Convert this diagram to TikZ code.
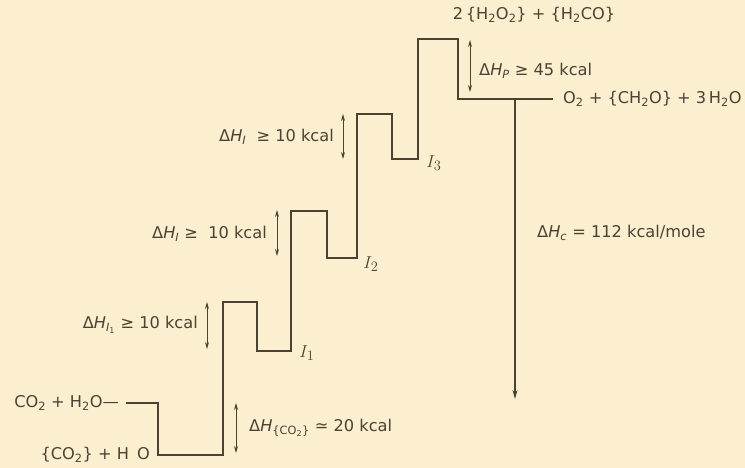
\documentclass[tikz,border=0pt]{standalone}
\usepackage{fontspec}
\setmainfont{DejaVu Sans}
\newfontfamily\symf{DejaVu Sans}
\usetikzlibrary{arrows.meta}
\definecolor{bg}{HTML}{FCEFCF}
\definecolor{ink}{HTML}{4A4233}
\newcommand{\sbs}[1]{\textsubscript{#1}}
\begin{document}
\begin{tikzpicture}[x=1pt,y=-1pt,
  lvl/.style={draw=ink,line width=1.2pt},
  dbl/.style={draw=ink,line width=0.9pt,{Stealth[length=7pt,width=4pt]}-{Stealth[length=7pt,width=4pt]}},
  sgl/.style={draw=ink,line width=1.1pt,-{Stealth[length=9pt,width=5pt]}},
  lab/.style={text=ink,font=\fontsize{16.2}{19}\selectfont,inner sep=1pt},
  ilab/.style={text=ink,font=\fontsize{19}{22}\selectfont,inner sep=1pt}]
\fill[bg] (0,0) rectangle (745,468);
\useasboundingbox (0,0) rectangle (745,468);
% staircase coordinates
\coordinate (s0) at (126,403);
\coordinate (s1) at (158,403);
\coordinate (s2) at (158,455);
\coordinate (s3) at (223,455);
\coordinate (s4) at (223,302);
\coordinate (s5) at (257,302);
\coordinate (s6) at (257,351);
\coordinate (s7) at (291,351);
\coordinate (s8) at (291,211);
\coordinate (s9) at (327,211);
\coordinate (s10) at (327,258);
\coordinate (s11) at (357,258);
\coordinate (s12) at (357,114);
\coordinate (s13) at (392,114);
\coordinate (s14) at (392,159);
\coordinate (s15) at (418,159);
\coordinate (s16) at (418,39);
\coordinate (s17) at (458,39);
\coordinate (s18) at (458,99);
\coordinate (s19) at (553,99);
\draw[lvl] (s0)--(s1)--(s2)--(s3)--(s4)--(s5)--(s6)--(s7)--(s8)--(s9)--(s10)--(s11)--(s12)--(s13)--(s14)--(s15)--(s16)--(s17)--(s18)--(s19);
% big combustion arrow
\coordinate (c0) at (515,99);
\coordinate (c1) at (515,399);
\draw[sgl] (c0)--(c1);
% double arrows
\coordinate (d1a) at (236,403); \coordinate (d1b) at (236,453);
\coordinate (d2a) at (207,302); \coordinate (d2b) at (207,349);
\coordinate (d3a) at (277,210); \coordinate (d3b) at (277,256);
\coordinate (d4a) at (343,114); \coordinate (d4b) at (343,159);
\coordinate (d5a) at (470,40); \coordinate (d5b) at (470,92);
\draw[dbl] (d1a)--(d1b);
\draw[dbl] (d2a)--(d2b);
\draw[dbl] (d3a)--(d3b);
\draw[dbl] (d4a)--(d4b);
\draw[dbl] (d5a)--(d5b);
% labels
\node[lab,anchor=east] (r1) at (120,403) {CO\sbs{2} + H\sbs{2}O—};
\node[lab,anchor=east] (r0) at (151,455) {\{CO\sbs{2}\} + H\,\,\,O};
\node[lab,anchor=east] (t1) at (199,325) {Δ\textit{H}\sbs{\textit{I}\sbs{1}} ≥ 10 kcal};
\node[lab,anchor=east] (t2) at (268,234) {Δ\textit{H}\sbs{\textit{I}} ≥ \ 10 kcal};
\node[lab,anchor=east] (t3) at (335,137) {Δ\textit{H}\sbs{\textit{I}} \ ≥ 10 kcal};
\node[lab,anchor=west] (tp) at (478,71) {Δ\textit{H}\sbs{\textit{P}} ≥ 45 kcal};
\node[lab,anchor=west] (tc) at (536,233) {Δ\textit{H}\sbs{\textit{c}} = 112 kcal/mole};
\node[lab,anchor=west] (tco) at (248,428) {Δ\textit{H}\sbs{\{CO\sbs{2}\}} {\symf ≃} 20 kcal};
\node[lab] (top) at (534,15) {2\,\{H\sbs{2}O\sbs{2}\} + \{H\sbs{2}CO\}};
\node[lab,anchor=west] (prod) at (562,99) {O\sbs{2} + \{CH\sbs{2}O\} + 3\,H\sbs{2}O};
\node[ilab] (i1) at (307,353) {$I_1$};
\node[ilab] (i2) at (371,264) {$I_2$};
\node[ilab] (i3) at (434,163) {$I_3$};
\end{tikzpicture}
\end{document}
